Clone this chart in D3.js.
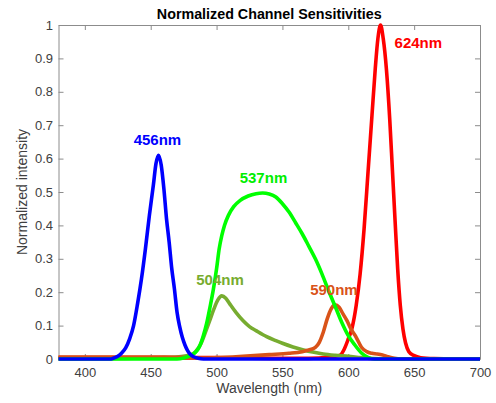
<!DOCTYPE html>
<html lang="en">
<head>
<meta charset="utf-8">
<script src="https://cdn.jsdelivr.net/npm/d3@7"></script>
<style>
body { margin: 0; background: #fff; font-family: "Liberation Sans", Arial, sans-serif; }
.axis text { font-size: 13px; fill: #404040; font-family: "Liberation Sans", Arial, sans-serif; }
.axis path, .axis line { stroke: #8c8c8c; }
</style>
</head>
<body>
<script>
// wavelength (nm) / normalized intensity
var blue = [[380,0],[420,0],[422,0.003],[425,0.008],[428,0.018],[431,0.033],[434,0.06],[437,0.1],[440,0.165],[443,0.24],[446,0.33],[449,0.43],[452,0.52],[454,0.585],[456,0.61],[458,0.58],[460,0.51],[462,0.42],[464,0.35],[466,0.27],[468,0.21],[470,0.14],[472,0.097],[474,0.065],[476,0.042],[478,0.025],[480,0.014],[483,0.006],[486,0.002],[490,0],[550,0],[700,0]];
var green = [[380,0],[470,0],[475,0.003],[480,0.01],[484,0.02],[487,0.037],[490,0.07],[492.5,0.107],[495,0.155],[497.5,0.207],[500,0.27],[502,0.33],[504,0.37],[506,0.4],[509,0.43],[513,0.456],[518,0.475],[524,0.488],[530,0.495],[535,0.497],[540,0.494],[545,0.485],[550,0.465],[555,0.44],[560,0.408],[565,0.375],[570,0.338],[575,0.3],[580,0.255],[585,0.205],[590,0.158],[595,0.11],[600,0.07],[605,0.042],[610,0.018],[615,0.005],[620,0],[700,0]];
var olive = [[380,0],[430,0.002],[460,0.004],[470,0.006],[476,0.009],[480,0.012],[484,0.022],[488,0.045],[492,0.085],[495,0.117],[498,0.15],[501,0.177],[504,0.189],[507,0.182],[510,0.165],[515,0.138],[520,0.115],[525,0.097],[530,0.085],[538,0.067],[545,0.055],[550,0.047],[558,0.036],[566,0.027],[574,0.02],[581,0.015],[590,0.011],[600,0.008],[610,0.004],[620,0.001],[630,0],[700,0]];
var orange = [[380,0.006],[420,0.006],[460,0.006],[480,0.004],[490,0.003],[500,0.004],[520,0.008],[540,0.013],[555,0.017],[565,0.022],[570,0.027],[575,0.035],[578,0.05],[581,0.08],[584,0.12],[587,0.15],[590,0.162],[593,0.155],[596,0.135],[599,0.115],[602,0.09],[606,0.065],[610,0.035],[614,0.022],[618,0.017],[622,0.015],[626,0.012],[630,0.007],[635,0.002],[640,0],[700,0]];
var red = [[380,0.004],[500,0.004],[540,0.002],[570,0.002],[585,0.005],[590,0.008],[594,0.012],[597,0.03],[600,0.06],[603,0.095],[606,0.16],[609,0.255],[612,0.39],[615,0.56],[618,0.73],[620.5,0.87],[622.5,0.96],[624.5,1],[626.5,0.96],[629,0.865],[631.5,0.716],[633.5,0.566],[635.5,0.416],[637.5,0.27],[639.5,0.16],[641.5,0.09],[643.5,0.048],[646,0.022],[650,0.01],[655,0.004],[665,0.001],[680,0],[700,0]];

var xTicks = [400, 450, 500, 550, 600, 650, 700];
var yTicks = [0, 0.1, 0.2, 0.3, 0.4, 0.5, 0.6, 0.7, 0.8, 0.9, 1];
var yTickLabels = ["0", "0.1", "0.2", "0.3", "0.4", "0.5", "0.6", "0.7", "0.8", "0.9", "1"];

// peak labels, anchored in data units
var peakNames = ["456nm", "537nm", "504nm", "590nm", "624nm"];
var peakWl = [455.1, 535.6, 502.6, 589.1, 653.2];
var peakV = [0.641, 0.527, 0.222, 0.192, 0.931];

var w = 496, h = 403;
var mLeft = 58.5, mRight = 480, mTop = 25, mBottom = 359;

var svg = d3.select("body").append("svg")
    .attr("width", w)
    .attr("height", h);

var x = d3.scaleLinear().domain([380, 700]).range([mLeft, mRight]);
var y = d3.scaleLinear().domain([0, 1]).range([mBottom, mTop]);

// axes with inward ticks, box on
svg.append("g").attr("class", "axis")
    .attr("transform", "translate(0," + mBottom + ")")
    .call(d3.axisBottom(x).tickValues(xTicks).tickSizeInner(-5).tickSizeOuter(0).tickPadding(9));
svg.append("g").attr("class", "axis")
    .attr("transform", "translate(0," + mTop + ")")
    .call(d3.axisTop(x).tickValues(xTicks).tickSizeInner(-5).tickSizeOuter(0).tickFormat(""));
svg.append("g").attr("class", "axis")
    .attr("transform", "translate(" + mLeft + ",0)")
    .call(d3.axisLeft(y).tickValues(yTicks).tickSizeInner(-5).tickSizeOuter(0).tickPadding(5.5)
        .tickFormat(function(d, i) { return yTickLabels[i]; }));
svg.append("g").attr("class", "axis")
    .attr("transform", "translate(" + mRight + ",0)")
    .call(d3.axisRight(y).tickValues(yTicks).tickSizeInner(-5).tickSizeOuter(0).tickFormat(""));

var line = d3.line()
    .x(function(d) { return x(d[0]); })
    .y(function(d) { return y(d[1]); })
    .curve(d3.curveMonotoneX);

var series = [
  {data: red, color: "#ff0000"},
  {data: olive, color: "#77ac30"},
  {data: orange, color: "#d95319"},
  {data: green, color: "#00ff00"},
  {data: blue, color: "#0000ff"}
];

series.forEach(function(s) {
  svg.append("path")
     .datum(s.data)
     .attr("d", line)
     .attr("fill", "none")
     .attr("stroke", s.color)
     .attr("stroke-width", 3.6)
     .attr("stroke-linejoin", "round");
});

var labelColors = ["#0000ff", "#00ee00", "#77ac30", "#d95319", "#ff0000"];
peakNames.forEach(function(n, i) {
  svg.append("text")
     .attr("x", x(peakWl[i]))
     .attr("y", y(peakV[i]))
     .attr("text-anchor", "middle")
     .attr("font-size", "15px")
     .attr("font-weight", "bold")
     .attr("fill", labelColors[i])
     .text(n);
});

// title and axis labels
svg.append("text")
    .attr("x", (mLeft + mRight) / 2)
    .attr("y", 19)
    .attr("text-anchor", "middle")
    .attr("font-size", "14.3px")
    .attr("font-weight", "bold")
    .attr("fill", "#000")
    .text("Normalized Channel Sensitivities");

svg.append("text")
    .attr("x", (mLeft + mRight) / 2)
    .attr("y", 393)
    .attr("text-anchor", "middle")
    .attr("font-size", "14px")
    .attr("fill", "#404040")
    .text("Wavelength (nm)");

svg.append("text")
    .attr("transform", "translate(27," + ((mTop + mBottom) / 2) + ") rotate(-90)")
    .attr("text-anchor", "middle")
    .attr("font-size", "14px")
    .attr("fill", "#404040")
    .text("Normalized intensity");
</script>
</body>
</html>
